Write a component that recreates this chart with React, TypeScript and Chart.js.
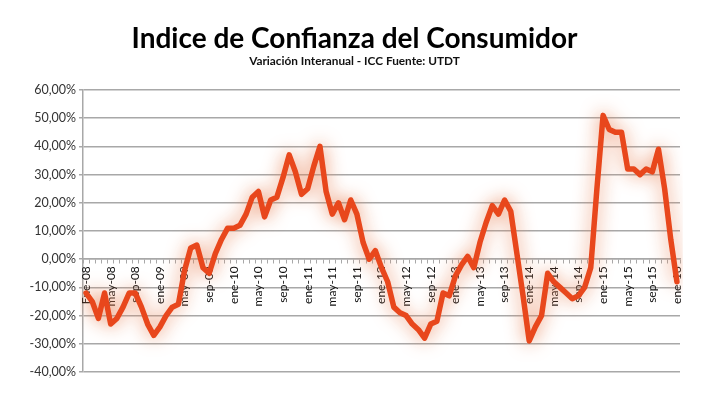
import React, { useEffect, useRef } from "react";
import { Chart, registerables } from "chart.js";

Chart.register(...registerables);

const TITLE = "Indice de Confianza del Consumidor";
const SUBTITLE = "Variación Interanual - ICC Fuente: UTDT";

const MONTHS = ["ene", "feb", "mar", "abr", "may", "jun", "jul", "ago", "sep", "oct", "nov", "dic"];
const YEARS = ["08", "09", "10", "11", "12", "13", "14", "15", "16"];

// Monthly categories Jan 2008 .. Jan 2016
const categories: string[] = [];
YEARS.forEach((yy, yi) => {
  MONTHS.forEach((m, mi) => {
    if (yi === YEARS.length - 1 && mi > 0) return;
    const name = yi === 0 && mi === 0 ? "Ene" : m;
    categories.push(`${name}-${yy}`);
  });
});

// Year-on-year variation of the ICC (%)
const icc2008 = [-12, -15, -21, -12, -23, -21, -17, -12, -12, -17, -23, -27];
const icc2009 = [-24, -20, -17, -16, -4, 4, 5, -3, -5, 2, 7, 11];
const icc2010 = [11, 12, 16, 22, 24, 15, 21, 22, 29, 37, 31, 23];
const icc2011 = [25, 33, 40, 24, 16, 20, 14, 21, 16, 6, 0, 3];
const icc2012 = [-3, -8, -17, -19, -20, -23, -25, -28, -23, -22, -12, -13];
const icc2013 = [-6, -2, 1, -3, 6, 13, 19, 16, 21, 17, 2, -13];
const icc2014 = [-29, -24, -20, -5, -8, -10, -12, -14, -13, -10, -3, 25];
const icc2015 = [51, 46, 45, 45, 32, 32, 30, 32, 31, 39, 25, 7];
const icc2016 = [-8];

const values = [...icc2008, ...icc2009, ...icc2010, ...icc2011, ...icc2012, ...icc2013, ...icc2014, ...icc2015, ...icc2016];

const Y_MIN = -40;
const Y_MAX = 60;
const Y_STEP = 10;
const LABEL_EVERY = 4;

const glowPlugin = {
  id: "glow",
  beforeDatasetsDraw(chart: any) {
    const c = chart.ctx;
    c.save();
    c.shadowColor = "rgba(232, 130, 85, 0.95)";
    c.shadowBlur = 18;
    c.shadowOffsetX = 0;
    c.shadowOffsetY = 0;
  },
  afterDatasetsDraw(chart: any) {
    chart.ctx.restore();
  },
};

export default function App() {
  const ref = useRef<HTMLCanvasElement | null>(null);

  useEffect(() => {
    document.body.style.margin = "0";
    const canvas = ref.current;
    if (!canvas) return;
    const chart = new Chart(canvas, {
      type: "line",
      data: {
        labels: categories,
        datasets: [
          {
            data: values,
            borderColor: "#e8471c",
            borderWidth: 5.5,
            pointRadius: 0,
            tension: 0,
            borderJoinStyle: "round",
            borderCapStyle: "round",
            fill: false,
          },
        ],
      },
      options: {
        animation: false,
        responsive: true,
        maintainAspectRatio: false,
        layout: { padding: { top: 12, right: 29, bottom: 21, left: 29 } },
        plugins: {
          legend: { display: false },
          tooltip: { enabled: false },
          title: {
            display: true,
            text: TITLE,
            color: "#000",
            font: { family: "Lato", size: 28, weight: "bold", lineHeight: 0.9 },
            padding: { top: 14, bottom: 0 },
          },
          subtitle: {
            display: true,
            text: SUBTITLE,
            color: "#111",
            font: { family: "Lato", size: 11.8, weight: "bold", lineHeight: 1.0 },
            padding: { top: 4, bottom: 23 },
          },
        },
        scales: {
          y: {
            min: Y_MIN,
            max: Y_MAX,
            ticks: {
              stepSize: Y_STEP,
              color: "#333",
              font: { family: "Lato", size: 12.5 },
              padding: 3,
              callback: (v: any) => Number(v).toFixed(2).replace(".", ",") + "%",
            },
            grid: { color: "#a8a8a8", lineWidth: 1.5, drawTicks: true, tickLength: 4, tickColor: "#a8a8a8" },
            border: { display: true, color: "#a8a8a8", width: 1.5 },
            afterFit: (scale: any) => {
              scale.width = 54;
            },
          },
          x: {
            axis: "x",
            type: "category",
            position: { y: 0 },
            offset: true,
            ticks: {
              autoSkip: false,
              minRotation: 90,
              maxRotation: 90,
              color: "#111",
              font: { family: "Lato", size: 12 },
              padding: 3,
              callback: (_v: any, i: number) => (i % LABEL_EVERY === 0 ? categories[i] : ""),
            },
            grid: { display: true, drawOnChartArea: false, drawTicks: true, tickLength: 4, offset: true, color: "#a8a8a8", lineWidth: 1 },
            border: { display: true, color: "#a8a8a8", width: 1.5 },
          },
        },
      },
      plugins: [glowPlugin],
    } as any);
    return () => chart.destroy();
  }, []);

  return (
    <div style={{ position: "absolute", left: 0, top: 0, width: 709, height: 393, background: "#fff" }}>
      <canvas ref={ref} />
    </div>
  );
}
